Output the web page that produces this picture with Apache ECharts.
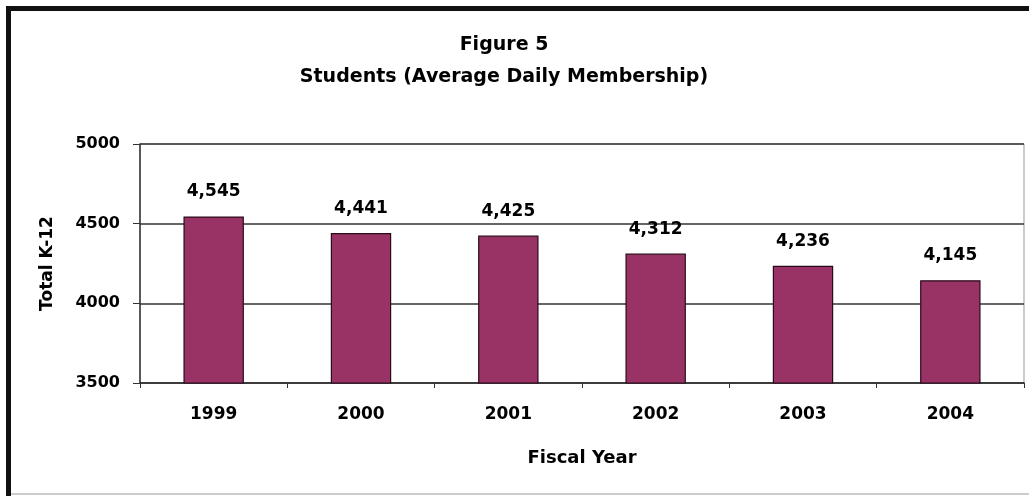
<!DOCTYPE html>
<html>
<head>
<meta charset="utf-8">
<script src="https://cdn.jsdelivr.net/npm/echarts@6/dist/echarts.min.js"></script>
<style>
html,body{margin:0;padding:0;background:#fff;}
#chart{width:1029px;height:496px;}
</style>
</head>
<body>
<div id="chart"></div>
<script>
var categories = ['1999', '2000', '2001', '2002', '2003', '2004'];
var students = [4545, 4441, 4425, 4312, 4236, 4145];
var titleText = 'Figure 5\nStudents (Average Daily Membership)';
var yAxisName = 'Total K-12';
var xAxisName = 'Fiscal Year';

var FONT = '"DejaVu Sans", Arial, sans-serif';
var chart = echarts.init(document.getElementById('chart'), null, {renderer: 'canvas'});
chart.setOption({
  animation: false,
  backgroundColor: '#fff',
  title: {
    text: titleText,
    left: 499, top: 24, textAlign: 'center',
    textStyle: {fontFamily: FONT, fontWeight: 'bold', fontSize: 19, color: '#000', lineHeight: 32, align: 'center'}
  },
  grid: {left: 140, right: 5, top: 144, bottom: 113, show: true, borderColor: '#999', borderWidth: 1},
  xAxis: {
    type: 'category', data: categories,
    name: xAxisName, nameLocation: 'middle', nameGap: 66,
    nameTextStyle: {fontFamily: FONT, fontWeight: 'bold', fontSize: 18, color: '#000'},
    axisLine: {lineStyle: {color: '#333', width: 1.5}},
    axisTick: {show: true, alignWithLabel: false, length: 5, lineStyle: {color: '#333'}},
    axisLabel: {fontFamily: FONT, fontWeight: 'bold', fontSize: 17, color: '#000', margin: 23},
    splitLine: {show: false}
  },
  yAxis: {
    type: 'value', min: 3500, max: 5000, interval: 500,
    name: yAxisName, nameLocation: 'middle', nameGap: 84,
    nameTextStyle: {fontFamily: FONT, fontWeight: 'bold', fontSize: 17, color: '#000'},
    axisLine: {show: true, lineStyle: {color: '#333', width: 1.5}},
    axisTick: {show: true, length: 7, lineStyle: {color: '#333'}},
    axisLabel: {fontFamily: FONT, fontWeight: 'bold', fontSize: 16, color: '#000', margin: 20,
      formatter: function (v) { return String(v); }},
    splitLine: {show: true, lineStyle: {color: '#333', width: 1.5}}
  },
  series: [{
    type: 'bar', data: students, barWidth: '41%',
    itemStyle: {color: '#993366', borderColor: '#2a0a18', borderWidth: 1.2},
    label: {
      show: true, position: 'top', distance: 16,
      fontFamily: FONT, fontWeight: 'bold', fontSize: 17, color: '#000',
      formatter: function (p) { return p.value.toLocaleString('en-US'); }
    }
  }],
  graphic: [
    {type: 'rect', shape: {x: 6, y: 6, width: 1030, height: 5}, style: {fill: '#111'}, silent: true},
    {type: 'rect', shape: {x: 6, y: 6, width: 5, height: 490}, style: {fill: '#111'}, silent: true},
    {type: 'rect', shape: {x: 11, y: 493, width: 1020, height: 2}, style: {fill: '#ccc'}, silent: true}
  ]
});
</script>
</body>
</html>
